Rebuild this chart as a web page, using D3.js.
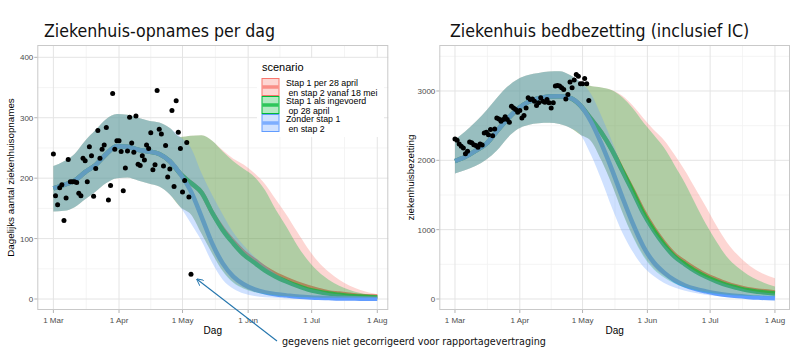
<!DOCTYPE html>
<html><head><meta charset="utf-8">
<script src="https://cdn.jsdelivr.net/npm/d3@7"></script>
<style>
body{margin:0;background:#fff}
svg{display:block}
text{font-family:"Liberation Sans",Arial,sans-serif}
</style>
</head><body>
<svg id="c" width="800" height="350"></svg>
<script>
// ---------- DATA ----------
// model days since 1 March
const sharedDays = [0,5,10,15,20,25,30,35,40,45,50,55,60];
const tailDays = [65,70,75,80,85,90,95,100,105,110,115,120,125,130,135,140,145,153];

// x-axis ticks
const tickDays = [0,31,61,92,122,153];
const tickLabels = ["1 Mar","1 Apr","1 May","1 Jun","1 Jul","1 Aug"];

const scenarioKeys = ["red","green","blue"];
const scenarioLabels = [
  ["Stap 1 per 28 april"," en stap 2 vanaf 18 mei"],
  ["Stap 1 als ingevoerd"," op 28 april"],
  ["Zonder stap 1"," en stap 2"]
];

// Left panel: daily hospital admissions (shared until ~1 May)
const admSharedMid = [183,189,196,210,222,240,253,252,247,244,240,228,207];
const admSharedHi  = [220,228,240,262,280,298,306,305,300,295,292,283,268];
const admSharedLo  = [145,146,152,165,178,192,200,201,196,191,186,173,152];
const admRedMid   = [192,176,143,116,95,77,64,51,41,33,26,20,15,11,9,7,5,4];
const admRedHi    = [270,271,262,246,232,222,208,190,165,140,112,85,62,45,32,22,15,8];
const admRedLo    = [140,108,76,47,28,18,12,9,7,5,4,3.5,3,2.5,2.5,2.5,2.5,2.5];
const admGreenMid = [192,176,143,114,92,73,60,47,37,29,22,16,12,9,7,5,4,3];
const admGreenHi  = [270,271,262,244,228,215,202,180,148,120,90,65,46,32,22,15,10,5];
const admGreenLo  = [140,108,75,46,27,17,11,8,6,4.5,3.5,3,2.5,2,2,2,2,2];
const admBlueMid  = [178,136,92,59,37,24,16,11,8,6,4,3,2,1.5,1,1,0.5,0.5];
const admBlueHi   = [250,208,172,140,110,88,70,55,42,32,24,18,14,10,8,6,5,3];
const admBlueLo   = [125,96,60,32,17,9,5,3,2,1,0.5,0.3,0.2,0.1,0,0,0,0];
// observed admissions, one per day from 1 March
const admObserved = [240,171,156,184,189,130,167,231,194,194,194,193,175,171,233,229,194,252,237,170,216,279,233,248,255,284,164,188,340,248,262,262,244,179,217,245,301,258,243,303,223,221,237,230,255,249,275,214,222,345,281,273,220,254,202,215,312,186,328,276,249,177,196,259,169,41];

// Right panel: hospital bed occupancy
const bedSharedMid = [1990,2050,2140,2240,2420,2590,2740,2840,2895,2920,2925,2900,2790];
const bedSharedHi  = [2300,2420,2560,2720,2900,3060,3170,3230,3260,3280,3285,3230,3130];
const bedSharedLo  = [1810,1860,1920,2010,2140,2320,2450,2510,2535,2540,2525,2470,2370];
const bedRedMid   = [2600,2400,2155,1860,1570,1270,1020,810,640,530,430,345,280,222,178,142,120,95];
const bedRedHi    = [3070,3050,3015,2930,2790,2610,2440,2290,2080,1850,1590,1330,1060,820,640,500,400,300];
const bedRedLo    = [2280,2000,1655,1260,915,640,450,330,245,185,140,110,88,72,62,55,50,48];
const bedGreenMid = [2600,2400,2150,1850,1550,1240,990,780,610,500,400,320,255,200,160,125,105,80];
const bedGreenHi  = [3070,3050,3010,2910,2750,2550,2370,2180,1930,1670,1370,1080,830,610,460,350,270,180];
const bedGreenLo  = [2280,2000,1650,1250,900,620,430,310,225,165,125,95,75,60,50,45,42,40];
const bedBlueMid  = [2560,2240,1870,1470,1090,760,530,380,270,195,145,110,80,58,42,30,20,10];
const bedBlueHi   = [2960,2640,2280,1900,1560,1250,990,790,630,500,400,320,260,210,165,130,105,80];
const bedBlueLo   = [2080,1720,1320,960,680,470,330,230,165,120,88,62,45,33,24,18,13,8];
const bedObserved = [2308,2289,2236,2202,2178,2096,2130,2265,2255,2226,2212,2188,2236,2222,2395,2404,2370,2443,2356,2452,2611,2596,2563,2588,2627,2588,2549,2780,2756,2732,2694,2718,2611,2645,2756,2901,2877,2886,2853,2790,2829,2901,2853,2838,2877,2829,2756,2829,3070,3079,3070,3046,3022,2886,2949,3128,3046,3157,3238,3214,3104,3104,3181,3104,2863];

// ---------- BUILD ----------
const allDays = sharedDays.concat(tailDays);
function series(sMid,sLo,sHi,tMid,tLo,tHi){
  const mid=sMid.concat(tMid), lo=sLo.concat(tLo), hi=sHi.concat(tHi);
  return allDays.map((d,i)=>({d, mid:mid[i], lo:lo[i], hi:hi[i]}));
}
const colors = {red:"#F8766D", green:"#00BA38", blue:"#619CFF"};

const admSeries = {
  red:   series(admSharedMid,admSharedLo,admSharedHi,admRedMid,admRedLo,admRedHi),
  green: series(admSharedMid,admSharedLo,admSharedHi,admGreenMid,admGreenLo,admGreenHi),
  blue:  series(admSharedMid,admSharedLo,admSharedHi,admBlueMid,admBlueLo,admBlueHi)
};
const bedSeries = {
  red:   series(bedSharedMid,bedSharedLo,bedSharedHi,bedRedMid,bedRedLo,bedRedHi),
  green: series(bedSharedMid,bedSharedLo,bedSharedHi,bedGreenMid,bedGreenLo,bedGreenHi),
  blue:  series(bedSharedMid,bedSharedLo,bedSharedHi,bedBlueMid,bedBlueLo,bedBlueHi)
};

const svg = d3.select("#c");

function drawPanel(o){
  const g = svg.append("g");
  const x = d3.scaleLinear().domain(o.xDomain).range([o.x0,o.x1]);
  const y = d3.scaleLinear().domain(o.yDomain).range([o.y1,o.y0]);
  const minorX = tickDays.slice(1).map((d,i)=>(d+tickDays[i])/2);
  const minorY = o.yTicks.map(t=>t+o.yTicks[1]/2).filter(t=>t<o.yDomain[1]);
  // grid
  g.selectAll(".mx").data(minorX).join("line")
    .attr("x1",d=>x(d)).attr("x2",d=>x(d)).attr("y1",o.y0).attr("y2",o.y1)
    .attr("stroke","#f1f1f1").attr("stroke-width",0.8);
  g.selectAll(".my").data(minorY).join("line")
    .attr("y1",d=>y(d)).attr("y2",d=>y(d)).attr("x1",o.x0).attr("x2",o.x1)
    .attr("stroke","#f1f1f1").attr("stroke-width",0.8);
  g.selectAll(".Mx").data(tickDays).join("line")
    .attr("x1",d=>x(d)).attr("x2",d=>x(d)).attr("y1",o.y0).attr("y2",o.y1)
    .attr("stroke","#e4e4e4").attr("stroke-width",1);
  g.selectAll(".My").data(o.yTicks).join("line")
    .attr("y1",d=>y(d)).attr("y2",d=>y(d)).attr("x1",o.x0).attr("x2",o.x1)
    .attr("stroke","#e4e4e4").attr("stroke-width",1);

  const clipId = "clip"+o.id;
  svg.append("clipPath").attr("id",clipId).append("rect")
    .attr("x",o.x0).attr("y",o.y0).attr("width",o.x1-o.x0).attr("height",o.y1-o.y0);
  const data = g.append("g").attr("clip-path",`url(#${clipId})`);

  const line = d3.line().x(d=>x(d.d)).y(d=>y(d.mid)).curve(d3.curveMonotoneX);
  const area = d3.area().x(d=>x(d.d)).y0(d=>y(d.lo)).y1(d=>y(d.hi)).curve(d3.curveMonotoneX);
  scenarioKeys.forEach(k=>{
    data.append("path").attr("d",line(o.series[k])).attr("fill","none")
      .attr("stroke",colors[k]).attr("stroke-width",4.5).attr("stroke-linejoin","round");
  });
  scenarioKeys.forEach(k=>{
    data.append("path").attr("d",area(o.series[k])).attr("fill",colors[k]).attr("fill-opacity",0.3);
  });
  data.selectAll("circle").data(o.observed).join("circle")
    .attr("cx",(v,i)=>x(i)).attr("cy",v=>y(v)).attr("r",2.5).attr("fill","#000");

  // border
  g.append("rect").attr("x",o.x0+0.5).attr("y",o.y0+0.5)
    .attr("width",o.x1-o.x0-1).attr("height",o.y1-o.y0-1)
    .attr("fill","none").attr("stroke","#c9c9c9").attr("stroke-width",1);

  // ticks
  g.selectAll(".tx").data(tickDays).join("line")
    .attr("x1",d=>x(d)).attr("x2",d=>x(d)).attr("y1",o.y1).attr("y2",o.y1+3)
    .attr("stroke","#b3b3b3");
  g.selectAll(".ty").data(o.yTicks).join("line")
    .attr("y1",d=>y(d)).attr("y2",d=>y(d)).attr("x1",o.x0-3).attr("x2",o.x0)
    .attr("stroke","#b3b3b3");
  g.selectAll(".lx").data(tickDays).join("text")
    .attr("x",d=>x(d)).attr("y",o.y1+13).attr("text-anchor","middle")
    .attr("font-size",8).attr("fill","#4d4d4d").text((d,i)=>tickLabels[i]);
  g.selectAll(".ly").data(o.yTicks).join("text")
    .attr("x",o.x0-4).attr("y",d=>y(d)+3).attr("text-anchor","end")
    .attr("font-size",8).attr("fill","#4d4d4d").text(d=>d);

  // axis titles
  g.append("text").attr("x",(o.x0+o.x1)/2).attr("y",o.y1+24).attr("text-anchor","middle")
    .attr("font-size",10).attr("fill","#000").text("Dag");
  g.append("text").attr("transform",`translate(${o.ylabX},${(o.y0+o.y1)/2}) rotate(-90)`)
    .attr("text-anchor","middle").attr("font-size",9.8).attr("fill","#000").text(o.yLabel);

  // title
  svg.append("text").attr("x",o.titleX).attr("y",37)
    .attr("font-size",17.6).style("font-family","'DejaVu Sans Condensed','DejaVu Sans',sans-serif")
    .style("font-stretch","condensed").attr("fill","#111").text(o.title);
  return {x,y};
}

const left = drawPanel({
  id:"L", x0:37.3, x1:388.3, y0:45, y1:310,
  xDomain:[-7.6,158.2], yDomain:[-18.2,420.4], yTicks:[0,100,200,300,400],
  series:admSeries, observed:admObserved,
  yLabel:"Dagelijks aantal ziekenhuisopnames", ylabX:13.5,
  title:"Ziekenhuis-opnames per dag", titleX:44
});
drawPanel({
  id:"R", x0:439.3, x1:790, y0:45, y1:310,
  xDomain:[-7.5,160.2], yDomain:[-158.7,3663], yTicks:[0,1000,2000,3000],
  series:bedSeries, observed:bedObserved,
  yLabel:"ziekenhuisbezetting", ylabX:414,
  title:"Ziekenhuis bedbezetting (inclusief IC)", titleX:450
});

// legend
const lg = svg.append("g");
lg.append("rect").attr("x",257).attr("y",58).attr("width",127).attr("height",79).attr("fill","#fff");
lg.append("text").attr("x",262).attr("y",71).attr("font-size",11).attr("fill","#000").text("scenario");
scenarioKeys.forEach((k,i)=>{
  const top = 78 + i*18;
  lg.append("rect").attr("x",262).attr("y",top+0.5).attr("width",17).attr("height",17)
    .attr("fill",colors[k]).attr("fill-opacity",0.3).attr("stroke",colors[k]).attr("stroke-width",1);
  lg.append("line").attr("x1",262.5).attr("x2",278.5).attr("y1",top+9).attr("y2",top+9)
    .attr("stroke",colors[k]).attr("stroke-width",3.5).attr("stroke-opacity",0.75);
  scenarioLabels[i].forEach((t,j)=>{
    lg.append("text").attr("x",286).attr("y",top+8+j*9.6).attr("font-size",8.8)
      .attr("fill","#000").style("white-space","pre").text(t);
  });
});

// annotation arrow to the uncorrected last observation
const lastI = admObserved.length-1;
const px = left.x(lastI), py = left.y(admObserved[lastI]);
svg.append("defs").append("marker").attr("id","arr").attr("viewBox","0 0 10 10")
  .attr("refX",9).attr("refY",5).attr("markerWidth",7).attr("markerHeight",7)
  .attr("orient","auto-start-reverse").attr("markerUnits","userSpaceOnUse")
  .append("path").attr("d","M0,0 L10,5 L0,10").attr("fill","none").attr("stroke","#2475ad").attr("stroke-width",1.3);
const annX = 282, annY = 345;
svg.append("line").attr("x1",annX-5).attr("y1",annY-4).attr("x2",px+6).attr("y2",py+5)
  .attr("stroke","#2475ad").attr("stroke-width",1.1).attr("marker-end","url(#arr)");
svg.append("text").attr("x",annX).attr("y",annY).attr("font-size",10.7)
  .style("font-family","'DejaVu Sans Condensed','DejaVu Sans',sans-serif").style("font-stretch","condensed")
  .attr("fill","#111").text("gegevens niet gecorrigeerd voor rapportagevertraging");
</script>
</body></html>
